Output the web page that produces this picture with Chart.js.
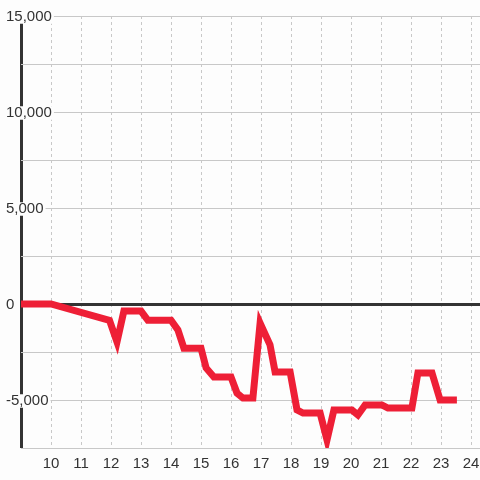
<!DOCTYPE html>
<html>
<head>
<meta charset="utf-8">
<script src="https://cdn.jsdelivr.net/npm/chart.js@4/dist/chart.umd.min.js"></script>
<style>
  html, body { margin: 0; padding: 0; background: #fdfdfd; }
  #wrap { width: 480px; height: 480px; }
</style>
</head>
<body>
<div id="wrap"><canvas id="chart"></canvas></div>
<script>
// x in hours, y running total
let xs = [9, 10, 11.95, 12.2, 12.43, 13.0, 13.23, 14.0, 14.23, 14.43, 15.0, 15.17, 15.43, 16.0,
  16.2, 16.4, 16.73, 16.97, 17.3, 17.47, 17.97, 18.2, 18.4, 18.97, 19.2, 19.43, 20.03, 20.23,
  20.47, 21.03, 21.23, 22.03, 22.23, 22.7, 22.97, 23.53];
let ys = [0, 0, -850, -1980, -370, -370, -850, -850, -1350, -2300, -2300, -3330, -3800, -3800,
  -4640, -4900, -4900, -1000, -2130, -3540, -3540, -5520, -5680, -5680, -7080, -5520, -5520, -5780,
  -5260, -5260, -5420, -5420, -3590, -3590, -5000, -5000];
let xTicks = [9, 10, 11, 12, 13, 14, 15, 16, 17, 18, 19, 20, 21, 22, 23, 24];
let yTicks = [-7500, -5000, -2500, 0, 2500, 5000, 7500, 10000, 12500, 15000];
let yLabelled = [-5000, 0, 5000, 10000, 15000];

let points = xs.map((x, i) => ({ x: x, y: ys[i] }));

// the first x grid line doubles as the left axis
let isAxisX = (c) => c.tick && c.tick.value === 9;

let ctx = document.getElementById('chart').getContext('2d');
new Chart(ctx, {
  type: 'line',
  data: {
    datasets: [
      {
        data: points,
        borderColor: '#ee1f36',
        borderWidth: 7,
        borderJoinStyle: 'miter',
        pointRadius: 0,
        tension: 0,
        fill: false
      }
    ]
  },
  options: {
    responsive: true,
    maintainAspectRatio: false,
    animation: false,
    layout: { padding: { left: 21, top: 16, right: 0, bottom: 0 } },
    plugins: {
      legend: { display: false },
      tooltip: { enabled: false }
    },
    scales: {
      x: {
        type: 'linear',
        min: 9,
        max: 24.3,
        afterBuildTicks: (scale) => {
          scale.ticks = xTicks.map(v => ({ value: v }));
        },
        afterFit: (scale) => {
          // last label isn't at the edge, so no room needed for it
          scale.paddingRight = 0;
        },
        grid: {
          drawTicks: false,
          color: (c) => isAxisX(c) ? '#333333' : '#c8c8c8',
          lineWidth: (c) => isAxisX(c) ? 3 : 1
        },
        border: { display: false, dash: (c) => isAxisX(c) ? [] : [3, 3] },
        ticks: {
          color: '#333333',
          font: { family: 'Liberation Sans, Arial', size: 15 },
          padding: 7,
          maxRotation: 0,
          autoSkip: false,
          callback: (v) => v === 9 ? '' : v
        }
      },
      y: {
        min: -7500,
        max: 15000,
        afterBuildTicks: (scale) => {
          scale.ticks = yTicks.map(v => ({ value: v }));
        },
        grid: {
          drawTicks: false,
          color: (c) => c.tick && c.tick.value === 0 ? '#333333' : '#c8c8c8',
          lineWidth: (c) => c.tick && c.tick.value === 0 ? 3 : 1
        },
        border: { display: false },
        ticks: {
          mirror: true,
          padding: -5,
          labelOffset: 1,
          color: '#333333',
          font: { family: 'Liberation Sans, Arial', size: 15, lineHeight: 0.9 },
          showLabelBackdrop: true,
          backdropColor: '#fdfdfd',
          backdropPadding: { left: 1, right: 2, top: 0, bottom: 0 },
          callback: (v) => yLabelled.includes(v) ? v.toLocaleString('en-US') : ''
        }
      }
    }
  }
});
</script>
</body>
</html>
